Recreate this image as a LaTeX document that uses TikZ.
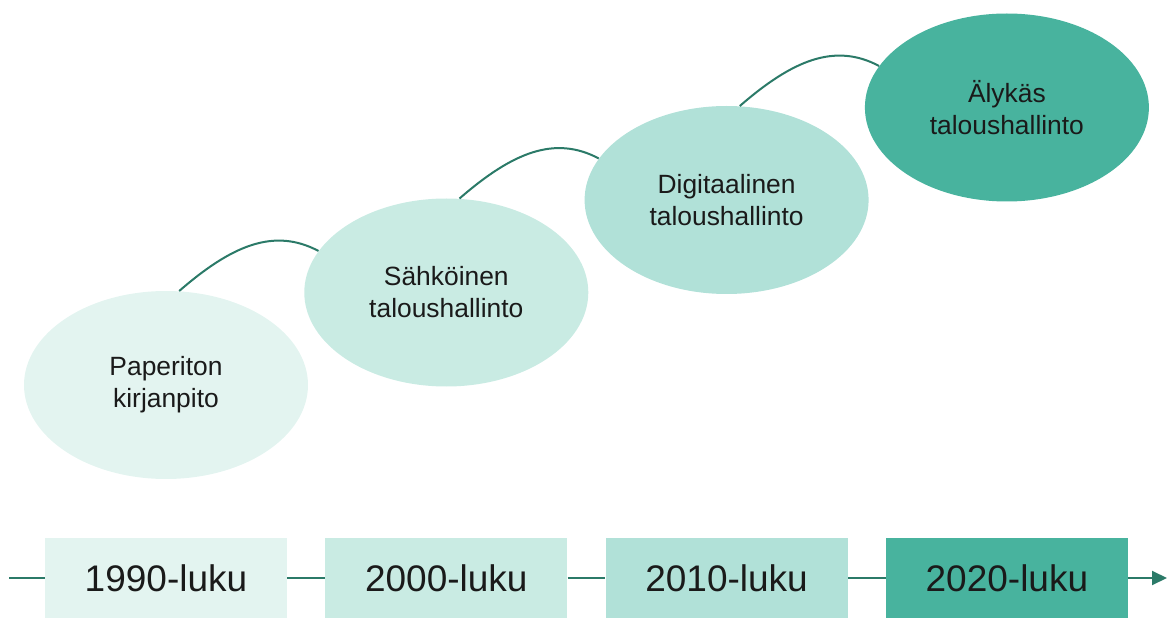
\documentclass[tikz,border=0pt]{standalone}
\usepackage{fontspec}
\setmainfont{Liberation Sans}
\usetikzlibrary{shapes.geometric,arrows.meta}

\definecolor{lineGreen}{HTML}{2B7A68}
\definecolor{stageA}{HTML}{E3F4F0}
\definecolor{stageB}{HTML}{C9EBE3}
\definecolor{stageC}{HTML}{B1E1D8}
\definecolor{stageD}{HTML}{48B39E}
\definecolor{inkText}{HTML}{1A1A1A}

\tikzset{
  stage/.style={ellipse, minimum width=142pt, minimum height=94pt, inner sep=0pt,
    align=center, text=inkText, font=\fontsize{13.2}{16}\selectfont},
  decade/.style={rectangle, minimum width=121pt, minimum height=40.5pt, inner sep=0pt,
    text=inkText, font=\fontsize{18.5}{22}\selectfont},
  link/.style={draw=lineGreen, line width=1pt},
}

\begin{document}
\begin{tikzpicture}[x=0.5pt, y=0.5pt]

\def\xa{166}; % first column
\def\dx{280.3};
\def\yb{39}; % timeline
\def\ye{232}; % first ellipse
\def\dy{92.5};

\useasboundingbox (0,0) rectangle (1174,617);

% timeline
\coordinate (tstart) at (9, \yb);
\coordinate (tend) at (1167, \yb);
\node[decade, fill=stageA] (d1990) at (\xa, \yb) {1990-luku};
\node[decade, fill=stageB] (d2000) at (\xa + \dx, \yb) {2000-luku};
\node[decade, fill=stageC] (d2010) at (\xa + 2*\dx, \yb) {2010-luku};
\node[decade, fill=stageD] (d2020) at (\xa + 3*\dx, \yb) {2020-luku};

\draw[link] (tstart) -- (d1990);
\draw[link] (d1990) -- (d2000);
\draw[link] (d2000) -- (d2010);
\draw[link] (d2010) -- (d2020);
\draw[link, -{Triangle[length=7.5pt, width=7pt]}] (d2020) -- (tend);

% stages
\node[stage, fill=stageA] (paperless) at (\xa, \ye) {Paperiton\\kirjanpito};
\node[stage, fill=stageB] (electronic) at (\xa + \dx, \ye + \dy) {Sähköinen\\taloushallinto};
\node[stage, fill=stageC] (digital) at (\xa + 2*\dx, \ye + 2*\dy) {Digitaalinen\\taloushallinto};
\node[stage, fill=stageD] (smart) at (\xa + 3*\dx, \ye + 3*\dy) {Älykäs\\taloushallinto};

\draw[link] (paperless.82) .. controls +(41:70) and +(152:50) .. (electronic.162);
\draw[link] (electronic.82) .. controls +(41:70) and +(152:50) .. (digital.162);
\draw[link] (digital.82) .. controls +(41:70) and +(152:50) .. (smart.162);

\end{tikzpicture}
\end{document}
